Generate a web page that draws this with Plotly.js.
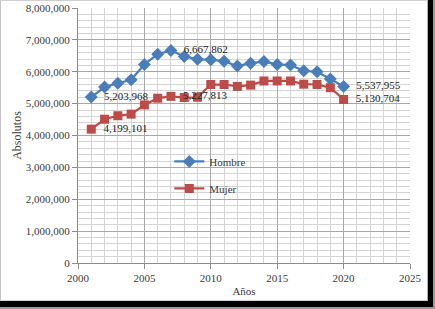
<!DOCTYPE html>
<html>
<head>
<meta charset="utf-8">
<script src="https://cdn.plot.ly/plotly-3.0.1.min.js"></script>
<style>
  html, body { margin: 0; padding: 0; background: #9a9a9a; width: 435px; height: 309px; overflow: hidden; }
  #shadow { position: absolute; left: 0; top: 0; width: 433px; height: 307px; background: #000; }
  #frame { position: absolute; left: 0; top: 0; width: 426px; height: 299px; background: #fff;
           border-left: 1px solid #c4c4c4; border-top: 1px solid #d0d0d0; border-right: 1px solid #b0b0b0; border-bottom: 1px solid #d0d0d0; }
  #chart { position: absolute; left: 0; top: 0; width: 428px; height: 300px; }
</style>
</head>
<body>
<div id="shadow"></div>
<div id="frame"></div>
<div id="chart"></div>
<script>
const years = [2001, 2002, 2003, 2004, 2005, 2006, 2007, 2008, 2009, 2010,
               2011, 2012, 2013, 2014, 2015, 2016, 2017, 2018, 2019, 2020];
const hombre = [5203968, 5520000, 5640000, 5750000, 6230000, 6550000, 6667862, 6480000, 6390000, 6380000,
                6330000, 6180000, 6270000, 6320000, 6230000, 6210000, 6030000, 6000000, 5770000, 5537955];
const mujer = [4199101, 4510000, 4620000, 4670000, 4960000, 5170000, 5227813, 5190000, 5200000, 5600000,
               5600000, 5540000, 5580000, 5710000, 5710000, 5710000, 5610000, 5600000, 5500000, 5130704];
const seriesNames = ['Hombre', 'Mujer'];
const labeledYears = [2001, 2007, 2020];
const xTitle = 'Años';
const yTitle = 'Absolutos';

function labelsFor(vals) {
  return years.map((y, i) => labeledYears.includes(y) ? '\u00a0\u00a0' + vals[i].toLocaleString('en-US') : '');
}

const serif = 'Liberation Serif, Times New Roman, serif';
const txtColor = '#3a3a3a';

const traces = [
  {
    x: years, y: hombre, name: seriesNames[0], legendgroup: 'a',
    mode: 'lines+markers+text', text: labelsFor(hombre), textposition: 'middle right',
    textfont: {family: serif, size: 11, color: '#222'},
    line: {color: '#4a7ebb', width: 2.25},
    marker: {symbol: 'diamond', size: 10, color: '#4a7ebb'},
    cliponaxis: false, hoverinfo: 'none'
  },
  {
    x: years, y: mujer, name: seriesNames[1], legendgroup: 'b',
    mode: 'lines+markers+text', text: labelsFor(mujer), textposition: 'middle right',
    textfont: {family: serif, size: 11, color: '#222'},
    line: {color: '#be4b48', width: 2.25},
    marker: {symbol: 'square', size: 9, color: '#be4b48'},
    cliponaxis: false, hoverinfo: 'none'
  }
];

const layout = {
  width: 428, height: 300,
  margin: {l: 78, r: 18, t: 8, b: 37},
  paper_bgcolor: 'rgba(0,0,0,0)', plot_bgcolor: '#fff',
  font: {family: serif, size: 11, color: txtColor},
  showlegend: true,
  legend: {
    x: 0.275, y: 0.455, xanchor: 'left', yanchor: 'top',
    bgcolor: 'rgba(0,0,0,0)', traceorder: 'grouped', tracegroupgap: 8,
    font: {family: serif, size: 11, color: txtColor}
  },
  xaxis: {
    range: [2000, 2025], dtick: 5, tick0: 2000,
    showgrid: true, gridcolor: '#a8a8a8', gridwidth: 1,
    minor: {dtick: 1, showgrid: true, gridcolor: '#d4d4d4', gridwidth: 1},
    showline: true, linecolor: '#8c8c8c', linewidth: 1,
    ticks: 'outside', ticklen: 5, tickcolor: '#8c8c8c',
    zeroline: false, fixedrange: true,
    title: {text: xTitle, font: {family: serif, size: 11, color: txtColor}, standoff: 4}
  },
  yaxis: {
    range: [0, 8000000], dtick: 1000000, tick0: 0, tickformat: ',d',
    showgrid: true, gridcolor: '#a8a8a8', gridwidth: 1,
    minor: {dtick: 200000, showgrid: true, gridcolor: '#d4d4d4', gridwidth: 1},
    showline: true, linecolor: '#8c8c8c', linewidth: 1,
    ticks: 'outside', ticklen: 5, tickcolor: '#8c8c8c',
    zeroline: false, fixedrange: true,
    title: {text: yTitle, font: {family: serif, size: 12, color: txtColor}}
  }
};

Plotly.newPlot('chart', traces, layout, {displayModeBar: false, staticPlot: true});
</script>
</body>
</html>
